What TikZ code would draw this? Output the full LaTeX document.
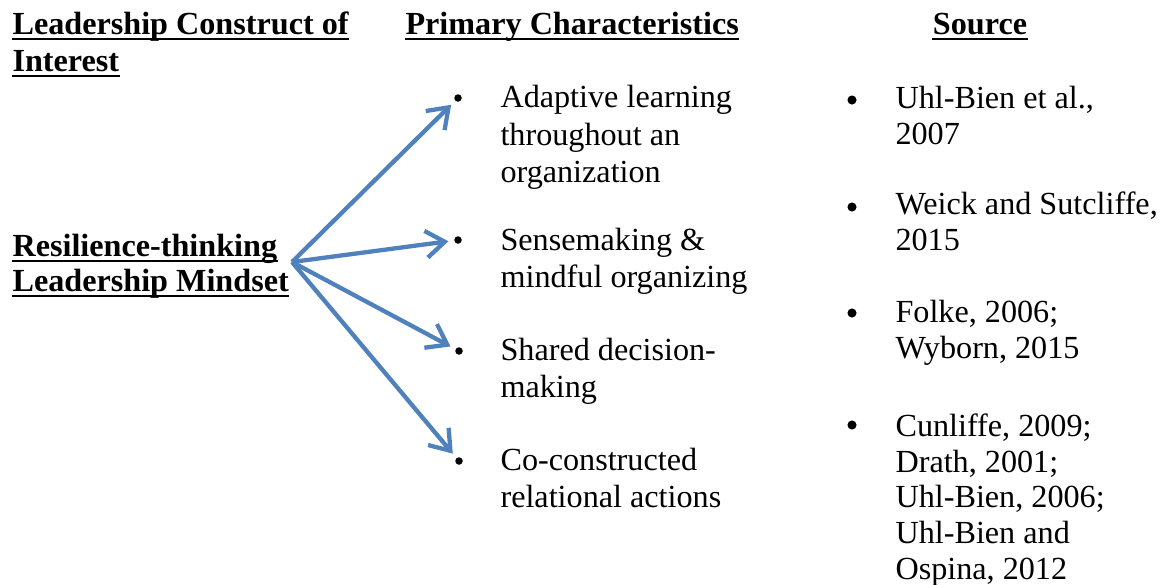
\documentclass[tikz,border=0pt]{standalone}
\usepackage{fontspec}
\setmainfont{Liberation Serif}[Ligatures=TeX]
\usepackage{xcolor}
\definecolor{ArrowColor}{RGB}{79,129,189}
\usetikzlibrary{positioning, arrows.meta}

\begin{document}
\begin{tikzpicture}[
    x=0.3729pt, y=-0.3729pt,
    txt/.style={anchor=base west, inner sep=0pt, align=left, font=\rmfamily\fontsize{12}{13.8}\selectfont},
    header/.style={txt, font=\rmfamily\fontsize{12}{13.8}\selectfont\bfseries},
    item/.style={txt},
    source/.style={txt, font=\rmfamily\fontsize{12}{13.3}\selectfont},
    uline/.style={line width=0.75pt},
    dot/.style={circle, fill=black, inner sep=0pt, minimum size=2.8pt},
    bigdot/.style={dot, minimum size=3.4pt},
    arrow/.style={-{Straight Barb[length=7pt, width=10pt]}, line width=1.6pt, ArrowColor, shorten >=2pt},
]
\useasboundingbox (0,0) rectangle (1160,584);

% ============================================
% HEADERS
% ============================================
\node[header] (hconstructa) at (12,34) {Leadership Construct of};
\node[header] (hconstructb) at (12,71) {Interest};
\node[header] (hchar) at (405,34) {Primary Characteristics};
\node[header, anchor=base] (hsource) at (980,34) {Source};

% ============================================
% CONSTRUCT
% ============================================
\node[header] (mindseta) at (12,256) {Resilience-thinking};
\node[header] (mindsetb) at (12,291) {Leadership Mindset};
\coordinate (hub) at (292,262);

% underlines
\foreach \n in {hconstructa, hconstructb, hchar, hsource, mindseta, mindsetb}
    \draw[uline] ([yshift=-1.9pt]\n.base west) -- ([yshift=-1.9pt]\n.base east);

% ============================================
% CHARACTERISTICS (anchored at last baseline)
% ============================================
\node[dot] (b1) at (458,98) {};
\node[dot] (b2) at (458,240) {};
\node[dot] (b3) at (459,351) {};
\node[dot] (b4) at (459,461) {};

\node[item] (c1) at (500,182) {Adaptive learning\\throughout an\\organization};
\node[item] (c2) at (500,287) {Sensemaking \&\\mindful organizing};
\node[item] (c3) at (500,397) {Shared decision-\\making};
\node[item] (c4) at (500,507) {Co-constructed\\relational actions};

% ============================================
% SOURCES
% ============================================
\node[bigdot] (s1) at (852,100) {};
\node[bigdot] (s2) at (852,207) {};
\node[bigdot] (s3) at (852,313) {};
\node[bigdot] (s4) at (852,425) {};

\node[source] (r1) at (895,144) {Uhl-Bien et al.,\\2007};
\node[source] (r2) at (895,250) {Weick and Sutcliffe,\\2015};
\node[source] (r3) at (895,358) {Folke, 2006;\\Wyborn, 2015};
\node[source] (r4) at (895,579) {Cunliffe, 2009;\\Drath, 2001;\\Uhl-Bien, 2006;\\Uhl-Bien and\\Ospina, 2012};

% ============================================
% ARROWS
% ============================================
\draw[arrow] (hub) -- (b1);
\draw[arrow] (hub) -- (b2);
\draw[arrow] (hub) -- (b3);
\draw[arrow] (hub) -- (b4);

\end{tikzpicture}
\end{document}
